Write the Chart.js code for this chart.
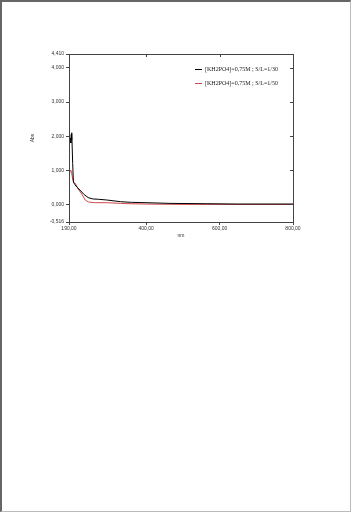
<!DOCTYPE html>
<html>
<head>
<meta charset="utf-8">
<script src="https://cdn.jsdelivr.net/npm/chart.js@4.4.1/dist/chart.umd.min.js"></script>
<style>
  html, body { margin: 0; padding: 0; background: #fff; }
  #page {
    position: absolute; left: 0; top: 0;
    width: 348px; height: 509px;
    border-top: 2px solid #666; border-left: 2px solid #666;
    border-right: 1px solid #bbb; border-bottom: 1px solid #bbb;
  }
  #wrap { position: absolute; left: 0; top: 0; width: 353px; height: 512px; }
</style>
</head>
<body>
<div id="page"></div>
<div id="wrap"><canvas id="absChart" width="353" height="512"></canvas></div>
<script>
// series names (legend)
const seriesNames = ['[KH2PO4]=0,75M ; S/L=1/30', '[KH2PO4]=0,75M ; S/L=1/50'];
const seriesColors = ['#000000', '#d04848'];

// black curve
const nmBlack = [190, 191, 193, 195, 196, 197, 198, 200, 202, 206, 212, 220, 230, 242, 255, 270, 292, 330, 360, 400, 465, 565, 650, 800];
const absBlack = [1.45, 1.75, 1.95, 1.8, 2.05, 1.9, 2.1, 1.2, 0.65, 0.58, 0.5, 0.42, 0.3, 0.2, 0.16, 0.15, 0.13, 0.08, 0.06, 0.05, 0.03, 0.02, 0.01, 0.01];

// red curve
const nmRed = [190, 191, 193, 195, 197, 199, 202, 208, 215, 225, 234, 243, 260, 293, 330, 356, 400, 500, 800];
const absRed = [0.5, 0.85, 1.0, 0.98, 0.95, 0.8, 0.67, 0.6, 0.45, 0.3, 0.13, 0.07, 0.05, 0.05, 0.03, 0.02, 0.01, 0.0, 0.0];

// ticks
const xTicks = [190, 400, 600, 800];
const yTicks = [-0.516, 0, 1, 2, 3, 4, 4.41];

const fmt = (v, d) => v.toFixed(d).replace('.', ',');
const toPoints = (xs, ys) => xs.map((x, i) => ({ x, y: ys[i] }));

// frame + inner ticks + legend inside the plot
const framePlugin = {
    id: 'frame',
    afterDatasetsDraw(chart) {
        const { ctx, chartArea: a, scales } = chart;
        ctx.save();
        ctx.strokeStyle = '#444';
        ctx.lineWidth = 1;
        ctx.strokeRect(a.left + 0.5, a.top + 0.5, a.right - a.left, a.bottom - a.top);

        ctx.beginPath();
        xTicks.forEach(v => {
            const px = Math.round(scales.x.getPixelForValue(v)) + 0.5;
            ctx.moveTo(px, a.top); ctx.lineTo(px, a.top + 3);
        });
        yTicks.forEach(v => {
            const py = Math.round(scales.y.getPixelForValue(v)) + 0.5;
            ctx.moveTo(a.right, py); ctx.lineTo(a.right - 3, py);
        });
        ctx.stroke();

        ctx.font = '6px "Liberation Serif", serif';
        ctx.textBaseline = 'middle';
        seriesNames.forEach((name, i) => {
            const y = 69 + i * 14;
            ctx.strokeStyle = seriesColors[i];
            ctx.beginPath();
            ctx.moveTo(195, y + 0.5); ctx.lineTo(202, y + 0.5);
            ctx.stroke();
            ctx.fillStyle = '#222';
            ctx.fillText(name, 205, y);
        });
        ctx.restore();
    }
};

new Chart(document.getElementById('absChart'), {
    type: 'line',
    data: {
        datasets: [
            { label: seriesNames[0], data: toPoints(nmBlack, absBlack), borderColor: seriesColors[0], borderWidth: 1, pointRadius: 0, tension: 0 },
            { label: seriesNames[1], data: toPoints(nmRed, absRed), borderColor: seriesColors[1], borderWidth: 1, pointRadius: 0, tension: 0 }
        ]
    },
    options: {
        responsive: false,
        animation: false,
        layout: { padding: { left: 30, top: 54, right: 60, bottom: 273 } },
        plugins: { legend: { display: false }, tooltip: { enabled: false } },
        scales: {
            x: {
                type: 'linear',
                min: 190, max: 800,
                afterBuildTicks: s => { s.ticks = xTicks.map(v => ({ value: v })); },
                afterFit: s => { s.height = 17; },
                ticks: { font: { size: 5, family: 'Arial, "Liberation Sans", sans-serif' }, color: '#333', padding: 1, maxRotation: 0, callback: v => fmt(v, 2) },
                grid: { drawOnChartArea: false, drawTicks: true, tickLength: 3, color: '#444' },
                border: { display: true, color: '#444' },
                title: { display: true, text: 'nm', font: { size: 5, family: 'Arial, "Liberation Sans", sans-serif' }, color: '#333', padding: 0 }
            },
            y: {
                min: -0.516, max: 4.41,
                afterBuildTicks: s => { s.ticks = yTicks.map(v => ({ value: v })); },
                afterFit: s => { s.width = 39; },
                ticks: { font: { size: 5, family: 'Arial, "Liberation Sans", sans-serif' }, color: '#333', padding: 2, callback: v => fmt(v, 3) },
                grid: { drawOnChartArea: false, drawTicks: true, tickLength: 3, color: '#444' },
                border: { display: true, color: '#444' },
                title: { display: true, text: 'Abs', font: { size: 5, family: 'Arial, "Liberation Sans", sans-serif' }, color: '#333', padding: 0 }
            }
        }
    },
    plugins: [framePlugin]
});
</script>
</body>
</html>
